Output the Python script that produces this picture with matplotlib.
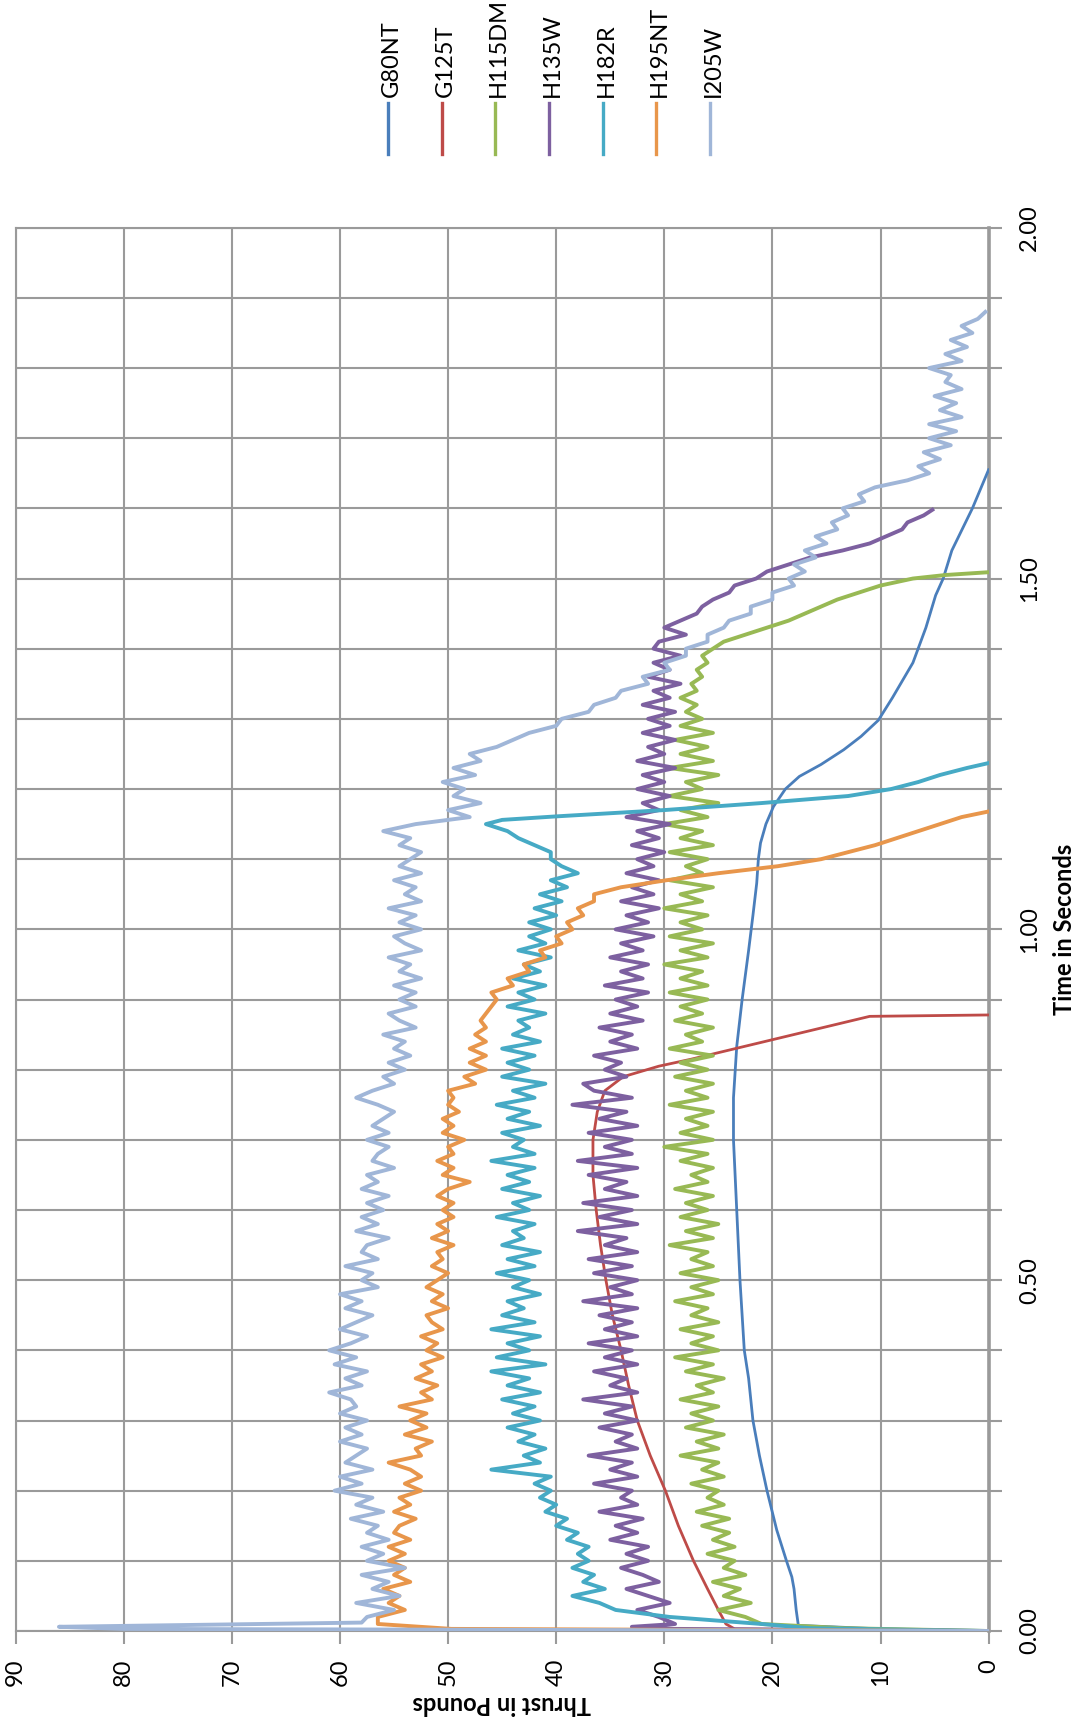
import numpy as np
import matplotlib.pyplot as plt
from matplotlib.ticker import MultipleLocator, FuncFormatter

plt.rcParams['font.family'] = ['Lato', 'DejaVu Sans']

names = ["G80NT", "G125T", "H115DM", "H135W", "H182R", "H195NT", "I205W"]
colors = ["#4A7EBB", "#BE4B48", "#98B954", "#7D60A0", "#46AAC5", "#E8964B", "#A0B6D8"]

# smooth motors (time s, thrust lb)
g80_t = [0, 0.003, 0.008, 0.03, 0.06, 0.077, 0.1, 0.144, 0.2, 0.25, 0.3, 0.36, 0.4, 0.5,
         0.6, 0.7, 0.76, 0.833, 0.9, 0.97, 1.02, 1.066, 1.1, 1.123, 1.15, 1.175, 1.2,
         1.218, 1.235, 1.256, 1.275, 1.298, 1.33, 1.38, 1.43, 1.476, 1.5, 1.54, 1.6, 1.655]
g80_v = [0, 10.0, 17.6, 17.8, 18.0, 18.2, 18.7, 19.6, 20.5, 21.2, 21.8, 22.2, 22.6, 23.0,
         23.3, 23.6, 23.6, 23.3, 22.8, 22.2, 21.8, 21.45, 21.3, 21.1, 20.6, 19.9, 18.8,
         17.5, 15.5, 13.4, 11.8, 10.2, 8.9, 7.0, 5.8, 4.9, 4.2, 3.4, 1.5, 0.0]

g125_t = [0, 0.003, 0.01, 0.03, 0.06, 0.1, 0.15, 0.2, 0.25, 0.3, 0.35, 0.4, 0.45, 0.5,
          0.55, 0.6, 0.65, 0.7, 0.74, 0.77, 0.79, 0.805, 0.815, 0.876, 0.878]
g125_v = [0, 23.5, 24.3, 25.0, 26.0, 27.3, 28.7, 29.9, 31.3, 32.5, 33.3, 34.0, 34.8, 35.4,
          35.9, 36.3, 36.6, 36.6, 36.2, 35.5, 33.8, 30.5, 27.5, 11.0, 0.0]

# noisy motors: head points, then samples every 0.01 s, then tail points
h115_head_t = [0, 0.004, 0.01]
h115_head_v = [0, 13.4, 21.0]
h115_start = 0.02
h115_v = [22.5, 25.0, 22.0, 24.5, 23.0, 25.5, 22.5, 24.5, 23.5,
          26.0, 23.5, 25.5, 24.0, 26.5, 24.0, 27.0, 24.5, 26.0, 25.0,
          27.5, 24.5, 26.5, 25.0, 28.5, 25.0, 27.0, 24.5, 28.0, 25.5,
          27.5, 25.0, 28.5, 25.5, 27.0, 24.5, 28.0, 25.5, 29.0, 25.0,
          27.5, 25.5, 28.5, 25.0, 27.5, 26.0, 29.0, 25.5, 27.5, 25.0,
          28.5, 25.5, 27.5, 26.0, 29.5, 25.5, 28.0, 25.0, 28.5, 26.0,
          28.0, 25.5, 29.0, 26.0, 27.5, 25.5, 28.5, 26.0, 30.0, 25.5,
          28.5, 26.0, 28.0, 25.5, 29.5, 26.0, 28.0, 25.5, 29.0, 26.0,
          28.5, 25.5, 29.5, 26.5, 28.0, 25.5, 29.0, 26.5, 28.5, 26.0,
          29.5, 26.0, 28.5, 26.5, 30.0, 26.0, 28.5, 25.5, 29.5, 26.5,
          28.5, 26.0, 30.0, 26.5, 28.5, 25.5, 29.5, 26.5, 28.0, 26.0,
          29.5, 25.5, 28.5, 26.5, 30.0, 26.0, 28.5, 25.0, 29.5, 26.5,
          28.0, 25.0, 29.5, 25.5, 28.5, 26.0, 29.0, 25.5, 28.5, 26.5,
          28.0, 27.0, 28.5, 27.0, 27.5, 26.5, 27.0, 26.0, 26.5, 25.5,
          24.5, 22.5, 20.5, 18.5, 17.0, 15.5, 14.0, 12.0, 10.0, 7.0]
h115_tail_t = [1.505, 1.509]
h115_tail_v = [4.0, 0.0]

h135_head_t = [0, 0.003, 0.006, 0.01]
h135_head_v = [0, 29.0, 33.0, 29.0]
h135_start = 0.02
h135_v = [30.5, 32.5, 29.5, 31.5, 33.5, 30.5, 32.0, 34.0, 31.5,
          33.5, 31.5, 35.0, 32.5, 34.5, 32.0, 36.0, 32.5, 34.0, 33.0,
          36.5, 32.5, 35.0, 33.0, 37.0, 32.5, 34.5, 33.0, 36.0, 32.5,
          35.5, 33.0, 37.5, 32.5, 35.0, 33.5, 36.5, 32.5, 35.5, 33.0,
          37.0, 32.5, 35.5, 33.0, 36.0, 32.5, 37.5, 33.0, 35.0, 32.5,
          36.5, 33.0, 37.0, 32.5, 35.5, 33.5, 38.0, 32.5, 36.0, 33.0,
          37.5, 32.5, 35.5, 33.5, 37.0, 32.5, 38.0, 33.0, 35.5, 33.0,
          37.0, 32.5, 36.0, 33.5, 38.5, 33.0, 36.5, 37.5, 33.5, 35.5,
          34.0, 36.5, 32.5, 35.0, 33.0, 36.0, 32.0, 35.0, 32.5, 34.5,
          31.5, 35.5, 32.0, 34.0, 31.5, 35.0, 32.0, 34.0, 31.0, 34.5,
          31.5, 33.5, 30.5, 34.0, 31.0, 33.0, 30.5, 33.5, 31.0, 32.5,
          30.0, 33.0, 30.5, 32.5, 29.5, 33.5, 30.5, 32.0, 29.5, 32.5,
          30.0, 32.0, 29.0, 32.5, 30.0, 31.5, 29.0, 32.0, 29.5, 31.5,
          29.0, 32.0, 29.5, 31.0, 28.5, 31.5, 29.5, 31.0, 28.5, 31.0,
          30.5, 28.0, 30.0, 28.5, 27.0, 26.5, 25.5, 24.0, 23.5, 21.5,
          20.5, 18.5, 16.5, 13.5, 11.0, 9.5, 8.0, 7.5, 6.0]
h135_tail_t = [1.598]
h135_tail_v = [5.2]

h182_head_t = [0, 0.004, 0.01, 0.02, 0.03]
h182_head_v = [0, 16.5, 21.0, 29.5, 34.5]
h182_start = 0.04
h182_v = [36.0, 38.5, 35.5, 37.5, 36.5, 38.5, 37.0,
          38.0, 37.0, 39.0, 38.0, 40.0, 39.0, 41.0, 40.0, 41.5, 40.5,
          42.0, 40.5, 46.0, 41.5, 43.0, 41.0, 43.5, 42.0, 44.5, 41.5,
          44.0, 42.0, 45.0, 41.5, 44.5, 42.5, 46.0, 41.0, 45.5, 42.5,
          44.5, 41.5, 46.0, 42.0, 45.0, 43.0, 44.5, 41.5, 44.0, 42.5,
          45.5, 42.0, 44.5, 41.5, 45.0, 43.0, 44.0, 42.0, 45.5, 42.5,
          44.0, 41.5, 45.0, 42.5, 44.5, 42.0, 46.0, 42.0, 44.0, 43.0,
          45.0, 41.5, 44.5, 42.5, 45.5, 42.0, 44.0, 41.0, 45.0, 42.5,
          44.5, 42.0, 45.0, 41.5, 44.0, 42.5, 43.5, 41.0, 44.5, 42.0,
          43.5, 41.0, 44.0, 41.5, 43.0, 40.5, 43.5, 41.0, 42.5, 40.5,
          42.5, 40.0, 42.0, 39.5, 41.5, 39.0, 40.5, 38.0, 39.5, 40.5,
          40.5, 42.0, 43.5, 44.5, 46.5]
h182_tail_t = [1.156, 1.161, 1.17, 1.18, 1.19, 1.20, 1.21, 1.22, 1.23, 1.237]
h182_tail_v = [45.0, 40.0, 30.0, 21.0, 13.0, 9.0, 6.5, 4.5, 2.0, 0.0]

h195_head_t = [0, 0.003, 0.01]
h195_head_v = [0, 49.7, 56.5]
h195_start = 0.02
h195_v = [56.5, 54.0, 55.5, 54.5, 56.0, 53.5, 55.0, 54.0, 55.5,
          54.0, 55.5, 53.5, 55.0, 54.5, 53.0, 55.0, 53.5, 54.5, 52.5,
          54.0, 52.5, 53.5, 55.5, 52.5, 53.0, 51.5, 54.0, 52.0, 53.5,
          52.0, 54.5, 51.5, 52.5, 51.0, 53.0, 51.5, 52.5, 50.5, 52.0,
          51.0, 52.5, 50.5, 51.5, 52.0, 50.0, 51.5, 50.5, 52.0, 51.0,
          50.0, 51.5, 50.5, 51.0, 49.5, 51.5, 50.0, 51.0, 49.5, 50.5,
          49.5, 51.0, 50.0, 48.0, 50.5, 49.5, 51.0, 49.5, 50.0, 48.5,
          50.5, 49.5, 50.5, 49.0, 50.0, 49.5, 50.0, 47.5, 48.5, 46.5,
          48.0, 46.5, 48.0, 46.5, 47.5, 46.5, 47.0, 46.5, 46.0, 45.5,
          46.0, 44.0, 44.5, 42.5, 43.0, 41.0, 41.5, 39.5, 40.0, 38.5,
          39.0, 37.5, 38.0, 36.5, 36.5, 34.0, 29.8, 25.0, 19.5, 15.5,
          13.0, 10.5, 8.5, 6.5, 4.5, 2.5]
h195_tail_t = [1.168]
h195_tail_v = [0.0]

i205_head_t = [0, 0.003, 0.006, 0.012]
i205_head_v = [0, 80.0, 86.0, 58.0]
i205_start = 0.02
i205_v = [57.5, 55.0, 58.5, 54.5, 57.0, 55.5, 58.0, 54.0, 57.5,
          56.0, 58.0, 55.5, 57.5, 56.5, 59.0, 56.0, 58.5, 57.0, 60.5,
          58.0, 60.0, 57.0, 59.5, 58.5, 57.5, 60.0, 58.0, 59.5, 57.5,
          60.0, 58.5, 59.0, 61.0, 58.0, 59.5, 57.5, 60.5, 58.5, 61.0,
          59.0, 57.5, 60.0, 58.5, 57.0, 59.5, 58.0, 60.0, 56.5, 58.0,
          57.0, 59.5, 56.5, 58.0, 57.5, 55.5, 58.5, 56.5, 58.0, 56.0,
          57.5, 55.5, 58.0, 56.5, 57.5, 55.0, 57.0, 56.5, 55.5, 57.5,
          55.5, 57.0, 56.0, 55.0, 56.5, 58.5, 57.0, 55.0, 56.0, 54.0,
          55.5, 53.5, 55.0, 54.0, 56.0, 53.0, 54.5, 55.5, 53.0, 54.5,
          53.0, 55.0, 52.5, 54.5, 53.5, 55.5, 52.5, 54.0, 55.0, 52.5,
          54.5, 53.0, 55.5, 52.5, 54.0, 53.0, 55.0, 52.5, 54.5, 53.5,
          52.5, 54.5, 53.5, 56.0, 53.0, 48.0, 50.0, 47.0, 49.5, 48.5,
          50.5, 47.5, 49.5, 47.0, 48.0, 45.5, 44.0, 42.5, 40.0, 39.5,
          37.0, 36.5, 34.5, 34.0, 31.5, 32.0, 29.5, 30.0, 28.0, 28.0,
          26.0, 26.0, 24.5, 24.0, 22.0, 22.0, 20.0, 20.0, 18.0, 18.5,
          17.0, 18.0, 16.0, 17.0, 15.0, 16.0, 14.0, 14.5, 13.0, 13.5,
          11.5, 12.0, 10.5, 7.5, 5.5, 6.5, 4.5, 6.0, 3.5, 5.5,
          3.0, 5.5, 2.5, 4.5, 3.0, 5.0, 2.5, 4.0, 3.5, 5.5,
          2.5, 4.0, 2.0, 3.5, 1.5, 2.5, 1.0, 0.3]
i205_tail_t = []
i205_tail_v = []


def build(head_t, head_v, start, vals, tail_t, tail_v):
    t = np.concatenate([head_t, start + 0.01 * np.arange(len(vals)), tail_t])
    v = np.concatenate([head_v, vals, tail_v])
    return t, v


series = [
    (np.array(g80_t), np.array(g80_v)),
    (np.array(g125_t), np.array(g125_v)),
    build(h115_head_t, h115_head_v, h115_start, h115_v, h115_tail_t, h115_tail_v),
    build(h135_head_t, h135_head_v, h135_start, h135_v, h135_tail_t, h135_tail_v),
    build(h182_head_t, h182_head_v, h182_start, h182_v, h182_tail_t, h182_tail_v),
    build(h195_head_t, h195_head_v, h195_start, h195_v, h195_tail_t, h195_tail_v),
    build(i205_head_t, i205_head_v, i205_start, i205_v, i205_tail_t, i205_tail_v),
]
widths = [2.0, 2.0, 2.8, 2.8, 2.8, 2.8, 2.8]

W, H = 1081, 1728
fig = plt.figure(figsize=(W / 100, H / 100), dpi=100)
L, R, T, B = 15.7, 988.6, 227.7, 1631.0
ax = fig.add_axes([L / W, 1 - B / H, (R - L) / W, (B - T) / H])

grid_c = "#9A9A9A"
for i, (t, v) in enumerate(series):
    ax.plot(v, t, color=colors[i], lw=widths[i], solid_joinstyle="round", zorder=3 + i)

ax.set_xlim(90, 0)
ax.set_ylim(0, 2.0)
ax.xaxis.set_major_locator(MultipleLocator(10))
ax.yaxis.set_major_locator(MultipleLocator(0.1))
ax.yaxis.tick_right()
ax.yaxis.set_major_formatter(FuncFormatter(
    lambda y, p: "%.2f" % y if abs(y * 2 - round(y * 2)) < 1e-6 else ""))
ax.grid(True, color=grid_c, lw=1.5, zorder=0)
for s in ax.spines.values():
    s.set_color(grid_c)
    s.set_linewidth(1.5)
ax.spines["right"].set_linewidth(2.6)
ax.tick_params(axis="both", direction="out", length=9, width=1.5, color=grid_c,
               labelsize=17, labelcolor="black")
ax.tick_params(axis="x", pad=11, labelrotation=90)
ax.tick_params(axis="y", pad=13, labelrotation=90)
for lab in ax.get_yticklabels():
    lab.set_va("center")

fig.text(1064 / W, 1 - 929 / H, "Time in Seconds", rotation=90, fontsize=17,
         fontweight="bold", ha="center", va="center")
fig.text(502 / W, 1 - 1704 / H, "Thrust in Pounds", rotation=180, fontsize=17,
         fontweight="bold", ha="center", va="center")

# legend: vertical line keys with rotated labels
leg_x = [388, 442, 495, 549, 603, 656, 710]
for i, name in enumerate(names):
    x = leg_x[i] / W
    fig.add_artist(plt.Line2D([x, x], [1 - 103 / H, 1 - 154 / H], color=colors[i],
                              lw=2.4, transform=fig.transFigure))
    fig.text(x + 3 / W, 1 - 97 / H, name, rotation=90, fontsize=17,
             ha="center", va="bottom")

fig.savefig("out.png", dpi=100)
